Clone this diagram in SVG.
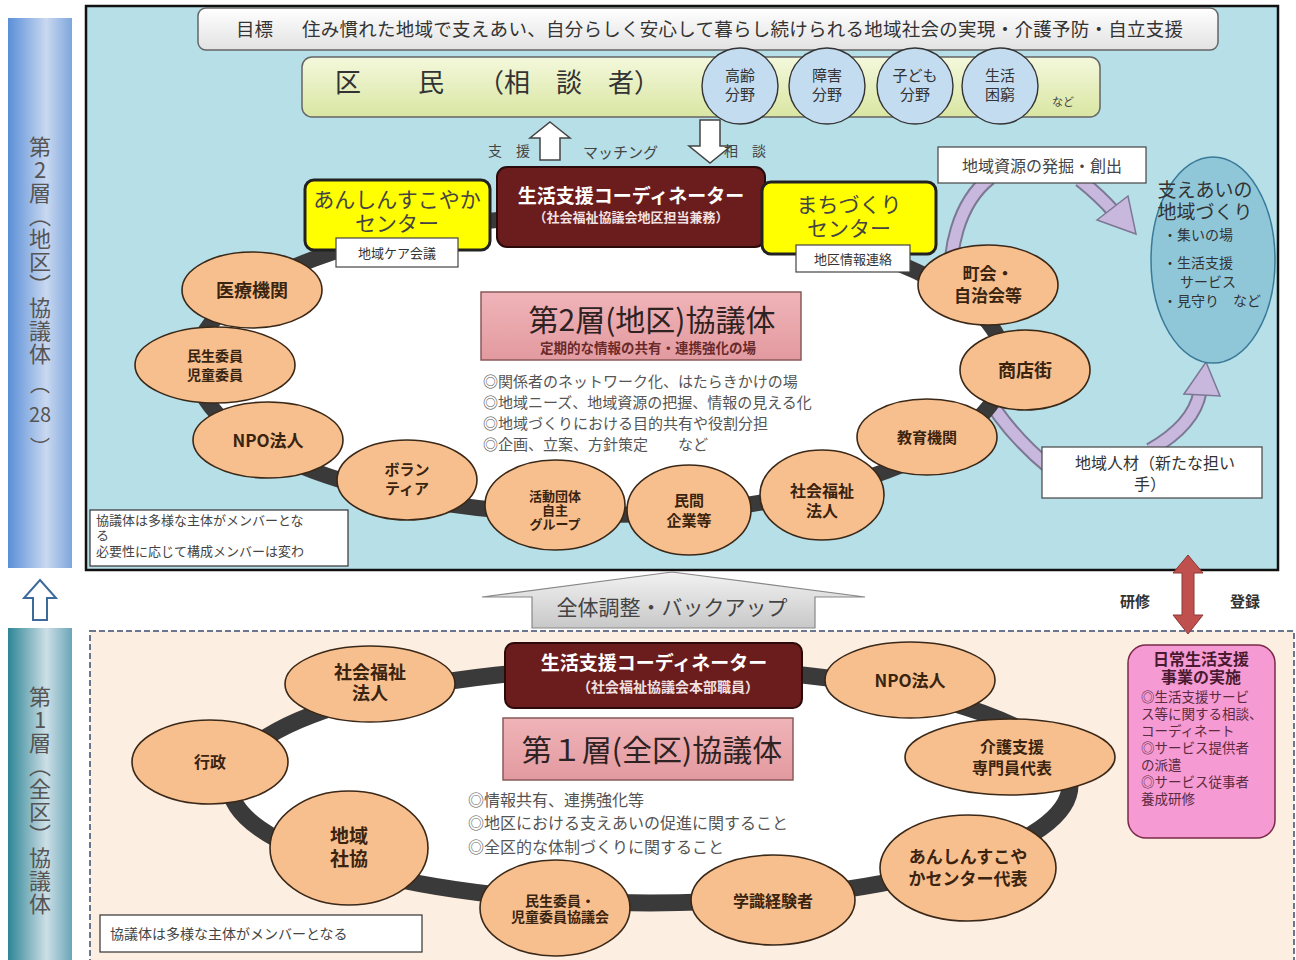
<svg xmlns="http://www.w3.org/2000/svg" width="1296" height="960" viewBox="0 0 1296 960">
<defs>
<linearGradient id="gSideTop" x1="0" y1="0" x2="1" y2="0"><stop offset="0" stop-color="#5a8fd8"/><stop offset="0.6" stop-color="#c9d8f0"/><stop offset="1" stop-color="#7ea6dc"/></linearGradient>
<linearGradient id="gSideBot" x1="0" y1="0" x2="1" y2="0"><stop offset="0" stop-color="#2e8596"/><stop offset="0.6" stop-color="#cddfe6"/><stop offset="1" stop-color="#6aa6b8"/></linearGradient>
<linearGradient id="gGoal" x1="0" y1="0" x2="0" y2="1"><stop offset="0" stop-color="#ffffff"/><stop offset="1" stop-color="#e2e2e2"/></linearGradient>
<linearGradient id="gRes" x1="0" y1="0" x2="0" y2="1"><stop offset="0" stop-color="#f4f8dc"/><stop offset="1" stop-color="#d9e6a2"/></linearGradient>
<linearGradient id="gPink" x1="0" y1="0" x2="0" y2="1"><stop offset="0" stop-color="#f0b4b8"/><stop offset="1" stop-color="#e29aa0"/></linearGradient>
<linearGradient id="gBack" x1="0" y1="0" x2="0" y2="1"><stop offset="0" stop-color="#f2f2f2"/><stop offset="1" stop-color="#c8c8c8"/></linearGradient>
<style>
text{font-family:"Noto Sans CJK JP","Noto Sans",sans-serif}
.orn{fill:#f8bf8e;stroke:#3a2818;stroke-width:1.6}
.ot{fill:#3a2410;font-weight:700;text-anchor:middle}
.lbl{fill:#fff;stroke:#444;stroke-width:1.2}
.lt{fill:#333;font-size:13px;text-anchor:middle}
.circ{fill:#c4dcf0;stroke:#333;stroke-width:1.4}
.ct{fill:#333;font-size:15px;text-anchor:middle}
.vside{fill:#555;font-size:22px;writing-mode:vertical-rl;text-orientation:upright;letter-spacing:1px}
.side{fill:#555;font-size:20px;text-anchor:middle}
.bul{fill:#555;font-size:15px}
.pur{fill:none;stroke:#7c7894;stroke-width:15}
.pur2{fill:none;stroke:#c9b8de;stroke-width:11}
.purh{fill:#c9b8de;stroke:#7c7894;stroke-width:1.5}
</style>
</defs>
<rect width="1296" height="960" fill="#fff"/>

<!-- side bars -->
<g id="side-top">
<rect x="8" y="18" width="64" height="550" fill="url(#gSideTop)"/>
<text class="vside" x="40" y="136">第2層︵地区︶協議体</text>
<text class="side" x="40" y="392">︵</text>
<text class="side" x="40" y="422">28</text>
<text class="side" x="40" y="455">︶</text>
</g>
<g id="side-bottom">
<rect x="8" y="628" width="64" height="332" fill="url(#gSideBot)"/>
<text class="vside" x="40" y="686">第1層︵全区︶協議体</text>
</g>
<g id="up-arrow-side">
<path d="M40 580 L56 598 L47 598 L47 620 L33 620 L33 598 L24 598 Z" fill="#fff" stroke="#3d6a9a" stroke-width="2"/>
</g>

<!-- top panel -->
<rect x="86" y="6" width="1192" height="564" fill="#b6dfe7" stroke="#111" stroke-width="2.5"/>

<!-- bottom panel -->
<rect x="90" y="631" width="1204" height="340" fill="#fdeee2" stroke="#6a7590" stroke-width="2" stroke-dasharray="6,3"/>

<g id="goal">
<rect x="198" y="8" width="1020" height="42" rx="8" fill="url(#gGoal)" stroke="#666" stroke-width="1.5"/>
<text x="236" y="36" font-size="18.5" fill="#333">目標</text>
<text x="302" y="36" font-size="18.5" fill="#333" textLength="881">住み慣れた地域で支えあい、自分らしく安心して暮らし続けられる地域社会の実現・介護予防・自立支援</text>
</g>

<g id="residents">
<rect x="302" y="57" width="798" height="60" rx="10" fill="url(#gRes)" stroke="#666" stroke-width="1.5"/>
<text x="335" y="92" font-size="26" fill="#333">区</text>
<text x="418" y="92" font-size="26" fill="#333">民</text>
<text x="478" y="92" font-size="26" fill="#333">（相　談　者）</text>
<g id="n-koreika"><circle class="circ" cx="740" cy="86" r="38"/>
<text class="ct" y="81"><tspan x="740">高齢</tspan><tspan x="740" dy="19">分野</tspan></text></g>
<g id="n-shogai"><circle class="circ" cx="827" cy="86" r="38"/>
<text class="ct" y="81"><tspan x="827">障害</tspan><tspan x="827" dy="19">分野</tspan></text></g>
<g id="n-kodomo"><circle class="circ" cx="915" cy="86" r="38"/>
<text class="ct" y="81" font-size="14"><tspan x="915">子ども</tspan><tspan x="915" dy="19">分野</tspan></text></g>
<g id="n-konkyu"><circle class="circ" cx="1000" cy="86" r="38"/>
<text class="ct" y="81" font-size="14"><tspan x="1000">生活</tspan><tspan x="1000" dy="19">困窮</tspan></text></g>
<text x="1052" y="106" font-size="11" fill="#444">など</text>
</g>

<g id="connectors">
<path d="M550 122 L570 138 L560 138 L560 160 L540 160 L540 138 L530 138 Z" fill="#fff" stroke="#444" stroke-width="1.5"/>
<path d="M700 120 L720 120 L720 146 L731 146 L710 163 L689 146 L700 146 Z" fill="#fff" stroke="#444" stroke-width="1.5"/>
<path class="pur" d="M990 178 C930 225 930 370 1050 468"/>
<path class="pur2" d="M990 178 C930 225 930 370 1050 468"/>
<path class="pur" d="M1080 180 Q1100 196 1114 212"/>
<path class="pur2" d="M1080 180 Q1100 196 1114 212"/>
<polygon class="purh" points="1097,220 1128,196 1136,234"/>
<path class="pur" d="M1150 450 Q1194 425 1200 392"/>
<path class="pur2" d="M1150 450 Q1194 425 1200 392"/>
<polygon class="purh" points="1184,394 1206,362 1220,396"/>
<path d="M672 572 L865 597 L815 597 L815 628 L532 628 L532 597 L482 597 Z" fill="url(#gBack)" stroke="#888" stroke-width="1.2"/>
<path d="M1188 555 L1203 573 L1194 573 L1194 615 L1203 615 L1188 634 L1173 615 L1182 615 L1182 573 L1173 573 Z" fill="#c0504d" stroke="#8c3836" stroke-width="1"/>
</g>
<text x="488" y="156" font-size="14" fill="#444">支　援</text>
<text x="583" y="158" font-size="15" fill="#444">マッチング</text>
<text x="724" y="156" font-size="14" fill="#444">相　談</text>
<text x="672" y="615" font-size="21" fill="#444" text-anchor="middle">全体調整・バックアップ</text>
<text x="1135" y="607" font-size="15" fill="#333" text-anchor="middle" font-weight="700">研修</text>
<text x="1245" y="607" font-size="15" fill="#333" text-anchor="middle" font-weight="700">登録</text>

<!-- top ring -->
<ellipse cx="600" cy="365" rx="405" ry="150" fill="#fff" stroke="#3a3a3a" stroke-width="16"/>

<g id="node-coord2">
<rect x="497" y="167" width="268" height="80" rx="10" fill="#6b1c1c" stroke="#2a0a0a" stroke-width="2"/>
<text text-anchor="middle" fill="#fff" font-weight="700"><tspan x="631" y="203" font-size="19">生活支援コーディネーター</tspan><tspan x="631" y="222" font-size="13" fill="#f2e0e0">（社会福祉協議会地区担当兼務）</tspan></text>
</g>
<g id="node-anshin2">
<rect x="305" y="180" width="185" height="70" rx="9" fill="#ffff00" stroke="#222" stroke-width="3"/>
<text font-size="21" fill="#444" text-anchor="middle"><tspan x="397" y="207">あんしんすこやか</tspan><tspan x="397" dy="24">センター</tspan></text>
<rect class="lbl" x="336" y="238" width="122" height="29"/>
<text class="lt" x="397" y="258">地域ケア会議</text>
</g>
<g id="node-machi">
<rect x="762" y="182" width="174" height="72" rx="9" fill="#ffff00" stroke="#222" stroke-width="3"/>
<text font-size="21" fill="#444" text-anchor="middle"><tspan x="849" y="212">まちづくり</tspan><tspan x="849" dy="24">センター</tspan></text>
<rect class="lbl" x="796" y="245" width="114" height="27"/>
<text class="lt" x="853" y="264">地区情報連絡</text>
</g>
<g id="node-shigen">
<rect class="lbl" x="938" y="147" width="208" height="36"/>
<text x="1042" y="172" font-size="16" fill="#444" text-anchor="middle">地域資源の発掘・創出</text>
</g>

<g id="node-title2">
<rect x="481" y="292" width="320" height="68" fill="url(#gPink)" stroke="#8a5a5a" stroke-width="1.5"/>
<text text-anchor="middle"><tspan x="652" y="331" font-size="30" fill="#2e2222">第2層(地区)協議体</tspan><tspan x="648" y="353" font-size="13.5" font-weight="700" fill="#6a2a2a">定期的な情報の共有・連携強化の場</tspan></text>
</g>
<g id="bullets2">
<text class="bul"><tspan x="483" y="387">◎関係者のネットワーク化、はたらきかけの場</tspan><tspan x="483" dy="21">◎地域ニーズ、地域資源の把握、情報の見える化</tspan><tspan x="483" dy="21">◎地域づくりにおける目的共有や役割分担</tspan><tspan x="483" dy="21">◎企画、立案、方針策定　　など</tspan></text>
</g>

<g id="n-iryo"><ellipse class="orn" cx="252" cy="290" rx="70" ry="38"/><text class="ot" x="252" y="297" font-size="18">医療機関</text></g>
<g id="n-minsei2"><ellipse class="orn" cx="215" cy="365" rx="80" ry="38"/><text class="ot" font-size="14"><tspan x="215" y="361">民生委員</tspan><tspan x="215" dy="19">児童委員</tspan></text></g>
<g id="n-npo2"><ellipse class="orn" cx="268" cy="440" rx="75" ry="38"/><text class="ot" x="268" y="447" font-size="17">NPO法人</text></g>
<g id="n-vol"><ellipse class="orn" cx="407" cy="480" rx="70" ry="40"/><text class="ot" font-size="15"><tspan x="407" y="475">ボラン</tspan><tspan x="407" dy="19">ティア</tspan></text></g>
<g id="n-katsudo"><ellipse class="orn" cx="555" cy="505" rx="70" ry="45"/><text class="ot" font-size="13"><tspan x="555" y="501">活動団体</tspan><tspan x="555" dy="14">自主</tspan><tspan x="555" dy="14">グループ</tspan></text></g>
<g id="n-minkan"><ellipse class="orn" cx="689" cy="510" rx="62" ry="45"/><text class="ot" font-size="15"><tspan x="689" y="506">民間</tspan><tspan x="689" dy="20">企業等</tspan></text></g>
<g id="n-shafuku2"><ellipse class="orn" cx="822" cy="495" rx="62" ry="45"/><text class="ot" font-size="16"><tspan x="822" y="497">社会福祉</tspan><tspan x="822" dy="20">法人</tspan></text></g>
<g id="n-kyoiku"><ellipse class="orn" cx="927" cy="437" rx="70" ry="38"/><text class="ot" x="927" y="443" font-size="15">教育機関</text></g>
<g id="n-shoten"><ellipse class="orn" cx="1025" cy="370" rx="65" ry="40"/><text class="ot" x="1025" y="377" font-size="18">商店街</text></g>
<g id="n-chokai"><ellipse class="orn" cx="988" cy="285" rx="70" ry="40"/><text class="ot" font-size="17"><tspan x="988" y="280">町会・</tspan><tspan x="988" dy="22">自治会等</tspan></text></g>

<g id="node-sasaeai">
<ellipse cx="1213" cy="260" rx="62" ry="103" fill="#8fc7d9" stroke="#3a7a98" stroke-width="1.5"/>
<text fill="#333"><tspan x="1205" y="197" font-size="19" text-anchor="middle">支えあいの</tspan><tspan x="1205" dy="22" font-size="19" text-anchor="middle">地域づくり</tspan><tspan x="1163" dy="21" font-size="14">・集いの場</tspan><tspan x="1163" dy="28" font-size="14">・生活支援</tspan><tspan x="1180" dy="19" font-size="14">サービス</tspan><tspan x="1163" dy="19" font-size="14">・見守り　など</tspan></text>
</g>
<g id="node-jinzai">
<rect class="lbl" x="1042" y="447" width="220" height="51"/>
<text font-size="16" fill="#333" text-anchor="middle"><tspan x="1155" y="469">地域人材（新たな担い</tspan><tspan x="1150" dy="21">手）</tspan></text>
</g>
<g id="note2">
<rect x="90" y="510" width="258" height="56" fill="#fff" stroke="#333" stroke-width="1.2"/>
<text font-size="13" fill="#444"><tspan x="96" y="525">協議体は多様な主体がメンバーとな</tspan><tspan x="96" dy="15">る</tspan><tspan x="96" dy="16">必要性に応じて構成メンバーは変わ</tspan></text>
</g>

<!-- bottom ring -->
<ellipse cx="650" cy="785" rx="420" ry="118" fill="#fff" stroke="#3a3a3a" stroke-width="17"/>

<g id="node-coord1">
<rect x="505" y="643" width="297" height="65" rx="9" fill="#6b1c1c" stroke="#2a0a0a" stroke-width="2"/>
<text text-anchor="middle" font-weight="700" fill="#fff"><tspan x="654" y="670" font-size="19">生活支援コーディネーター</tspan><tspan x="668" y="692" font-size="14" fill="#f2e0e0">（社会福祉協議会本部職員）</tspan></text>
</g>
<g id="node-title1">
<rect x="503" y="718" width="290" height="62" fill="url(#gPink)" stroke="#8a5a5a" stroke-width="1.5"/>
<text x="652" y="761" font-size="30" fill="#2e2222" text-anchor="middle">第１層(全区)協議体</text>
</g>
<g id="bullets1">
<text font-size="16" fill="#555"><tspan x="468" y="806">◎情報共有、連携強化等</tspan><tspan x="468" dy="23">◎地区における支えあいの促進に関すること</tspan><tspan x="468" dy="24">◎全区的な体制づくりに関すること</tspan></text>
</g>

<g id="b-shafuku"><ellipse class="orn" cx="370" cy="684" rx="85" ry="38"/><text class="ot" font-size="18"><tspan x="370" y="679">社会福祉</tspan><tspan x="370" dy="21">法人</tspan></text></g>
<g id="b-gyosei"><ellipse class="orn" cx="210" cy="762" rx="78" ry="42"/><text class="ot" x="210" y="768" font-size="16">行政</text></g>
<g id="b-chiiki"><ellipse class="orn" cx="349" cy="848" rx="79" ry="57"/><text class="ot" font-size="19"><tspan x="349" y="843">地域</tspan><tspan x="349" dy="23">社協</tspan></text></g>
<g id="b-minsei"><ellipse class="orn" cx="555" cy="908" rx="75" ry="48"/><text class="ot" font-size="14"><tspan x="560" y="906">民生委員・</tspan><tspan x="560" dy="16">児童委員協議会</tspan></text></g>
<g id="b-gakushiki"><ellipse class="orn" cx="773" cy="900" rx="82" ry="45"/><text class="ot" x="773" y="907" font-size="16">学識経験者</text></g>
<g id="b-anshin"><ellipse class="orn" cx="968" cy="868" rx="88" ry="53"/><text class="ot" font-size="17"><tspan x="968" y="863">あんしんすこや</tspan><tspan x="968" dy="22">かセンター代表</tspan></text></g>
<g id="b-kaigo"><ellipse class="orn" cx="1010" cy="757" rx="105" ry="38"/><text class="ot" font-size="16"><tspan x="1012" y="753">介護支援</tspan><tspan x="1012" dy="21">専門員代表</tspan></text></g>
<g id="b-npo"><ellipse class="orn" cx="910" cy="680" rx="85" ry="38"/><text class="ot" x="910" y="687" font-size="17">NPO法人</text></g>

<g id="note1">
<rect x="100" y="915" width="322" height="37" fill="#fff" stroke="#333" stroke-width="1.2"/>
<text x="110" y="939" font-size="14" fill="#444">協議体は多様な主体がメンバーとなる</text>
</g>

<g id="node-nichijo">
<rect x="1128" y="645" width="147" height="193" rx="18" fill="#f59ad2" stroke="#7a2a4a" stroke-width="1.5"/>
<text font-size="16" font-weight="700" fill="#4a1a30" text-anchor="middle"><tspan x="1201" y="665">日常生活支援</tspan><tspan x="1201" dy="18">事業の実施</tspan></text>
<text font-size="13.5" fill="#5a2a40"><tspan x="1141" y="702">◎生活支援サービ</tspan><tspan x="1141" dy="17">ス等に関する相談、</tspan><tspan x="1141" dy="17">コーディネート</tspan><tspan x="1141" dy="17">◎サービス提供者</tspan><tspan x="1141" dy="17">の派遣</tspan><tspan x="1141" dy="17">◎サービス従事者</tspan><tspan x="1141" dy="17">養成研修</tspan></text>
</g>
</svg>
